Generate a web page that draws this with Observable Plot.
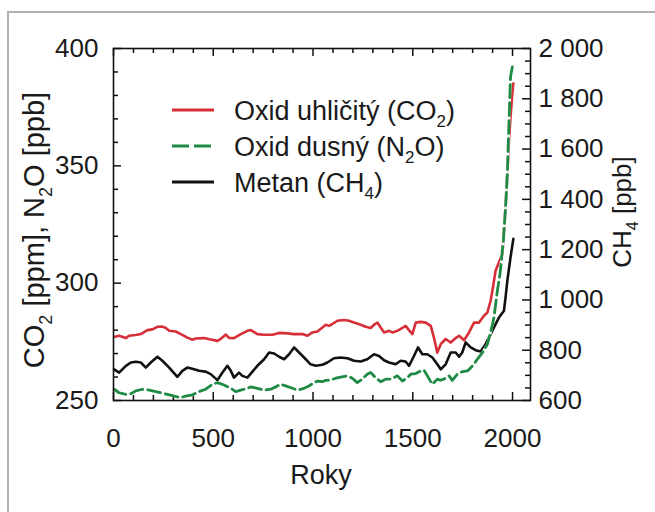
<!DOCTYPE html>
<html><head><meta charset="utf-8">
<script src="https://cdn.jsdelivr.net/npm/d3@7"></script>
<script src="https://cdn.jsdelivr.net/npm/@observablehq/plot@0.6"></script>
<style>
body{margin:0;background:#fff;font-family:"Liberation Sans",Arial,sans-serif;}
#wrap{position:relative;width:655px;height:512px;overflow:hidden;background:#fff;}
#border{position:absolute;left:7px;top:11px;width:700px;height:600px;border:2px solid #b0b0b0;box-sizing:border-box;pointer-events:none;}
</style></head><body>
<div id="wrap"><div id="chart"></div><div id="border"></div></div>
<script>
// ---- data ----
const co2 = [[3,277.1],[28,277.6],[62,276.6],[78,277.6],[112,277.9],[137,278.3],[170,280.0],[195,280.3],[220,281.4],[245,281.5],[262,280.9],[279,279.7],[312,279.4],[337,278.3],[370,276.8],[396,275.9],[412,276.4],[454,276.6],[487,276.0],[521,275.4],[538,276.3],[563,278.1],[579,276.7],[604,276.6],[638,278.3],[671,279.7],[688,280.0],[721,278.3],[755,278.0],[797,278.0],[830,278.8],[872,278.6],[905,278.3],[947,278.3],[972,277.6],[997,279.0],[1022,279.4],[1047,281.1],[1064,282.3],[1080,281.8],[1097,282.6],[1122,284.0],[1155,284.3],[1180,284.0],[1205,283.2],[1239,282.3],[1264,281.4],[1289,280.9],[1306,282.3],[1323,283.2],[1339,281.1],[1356,279.0],[1381,279.7],[1398,279.0],[1423,279.7],[1448,280.9],[1464,281.8],[1481,280.0],[1498,278.3],[1515,283.2],[1540,283.5],[1565,283.2],[1590,281.8],[1606,276.8],[1623,270.4],[1640,274.0],[1665,276.2],[1690,274.7],[1715,276.6],[1732,277.6],[1757,275.7],[1782,279.0],[1807,283.2],[1832,283.2],[1857,286.1],[1874,287.5],[1890,292.5],[1899,296.8],[1915,305.3],[1949,312.5],[1965,332.4],[1974,346.7],[1982,360.9],[1990,370.9],[1999,380.9],[2004,385.1]];
const n2o = [[3,254.8],[28,253.3],[62,252.6],[87,252.9],[112,254.1],[145,254.8],[179,254.4],[212,253.8],[237,253.3],[270,252.6],[304,251.9],[337,251.2],[362,251.9],[396,252.4],[429,253.8],[462,254.8],[496,256.9],[521,257.6],[554,256.6],[588,255.2],[613,253.8],[638,254.4],[671,255.2],[688,255.8],[721,255.2],[755,254.4],[788,254.8],[813,255.8],[838,256.9],[863,256.2],[897,255.2],[922,254.4],[955,255.2],[980,256.2],[1005,257.6],[1022,258.3],[1047,258.0],[1064,258.6],[1089,258.8],[1114,259.5],[1139,260.0],[1172,260.5],[1197,259.5],[1222,257.6],[1247,259.1],[1272,261.2],[1289,261.9],[1314,259.7],[1339,258.0],[1364,259.1],[1389,259.1],[1423,260.5],[1448,258.3],[1473,259.7],[1490,261.2],[1515,261.5],[1540,262.6],[1556,263.0],[1573,260.5],[1598,256.9],[1623,259.1],[1640,258.6],[1665,259.5],[1682,260.5],[1698,258.6],[1723,261.2],[1748,262.3],[1774,262.6],[1799,264.7],[1824,267.6],[1849,270.4],[1874,274.0],[1890,279.0],[1907,285.4],[1924,296.8],[1937,303.9],[1954,318.2],[1965,332.4],[1974,346.7],[1982,368.0],[1990,388.0],[1999,392.2]];
const ch4 = [[3,724],[28,711],[62,738],[87,751],[112,754],[137,751],[162,731],[187,751],[220,774],[245,758],[279,731],[320,694],[345,718],[370,731],[404,724],[429,718],[462,715],[487,705],[521,681],[546,711],[571,738],[588,718],[604,691],[629,711],[646,698],[671,691],[688,707],[721,738],[755,764],[780,791],[805,787],[830,774],[855,764],[880,784],[905,811],[930,791],[955,771],[988,744],[1014,738],[1047,742],[1072,751],[1105,768],[1139,771],[1172,768],[1206,758],[1239,755],[1272,764],[1306,784],[1331,777],[1356,760],[1381,751],[1414,744],[1439,758],[1464,755],[1481,738],[1506,777],[1526,811],[1548,784],[1573,784],[1598,771],[1623,744],[1640,724],[1665,744],[1690,791],[1715,791],[1732,774],[1748,791],[1765,831],[1790,811],[1815,800],[1840,795],[1865,824],[1890,864],[1915,904],[1932,930],[1957,957],[1965,1010],[1974,1077],[1990,1170],[2004,1243]];

const xMajor = [0,500,1000,1500,2000];
const xMinor = [100,200,300,400,600,700,800,900,1100,1200,1300,1400,1600,1700,1800,1900];
const yMajor = [250,300,350,400];
const yMinor = [260,270,280,290,310,320,330,340,360,370,380,390];
const ch4Major = [600,800,1000,1200,1400,1600,1800,2000];
const ch4Labels = ["600","800","1 000","1 200","1 400","1 600","1 800","2 000"];
const ch4Minor = [650,700,750,850,900,950,1050,1100,1150,1250,1300,1350,1450,1500,1550,1650,1700,1750,1850,1900,1950];
const legendItems = [
  {name:"Oxid uhličitý (CO", sub:"2", tail:")", color:"#d62f38", dash:null},
  {name:"Oxid dusný (N", sub:"2", tail:"O)", color:"#1e8a44", dash:"17,5"},
  {name:"Metan (CH", sub:"4", tail:")", color:"#111", dash:null}
];

// CH4 is drawn against the right axis: map 600–2000 ppb onto 250–400
const toLeft = v => 250 + (v - 600) * 150 / 1400;
const ch4Label = new Map(ch4Major.map((v, i) => [toLeft(v), ch4Labels[i]]));

const W = 655, H = 512, ML = 113, MR = 125, MT = 48, MB = 112;
const PW = W - ML - MR, PH = H - MT - MB;
const X0 = 0, X1 = 2090, Y0 = 250, Y1 = 400;
const FONT = "Liberation Sans, Arial, Helvetica, sans-serif";
const TXT = "#1a1a1a";
const ax = {label: null, fontSize: 26, fill: TXT, tickSize: 0};
const tk = {stroke: "#111", strokeWidth: 1.5};
const MAJ = 8, MIN = 5;
// tick lengths expressed in data units of each scale
const dyU = px => px * (Y1 - Y0) / PH, dxU = px => px * (X1 - X0) / PW;

const chart = Plot.plot({
  width: W, height: H,
  marginLeft: ML, marginRight: MR, marginTop: MT, marginBottom: MB,
  style: {fontFamily: FONT, background: "transparent", overflow: "visible"},
  x: {domain: [X0, X1]},
  y: {domain: [Y0, Y1]},
  marks: [
    // inward tick marks on all four sides
    Plot.ruleX(xMinor, {x: d => d, y1: Y0, y2: Y0 + dyU(MIN), ...tk}),
    Plot.ruleX(xMajor, {x: d => d, y1: Y0, y2: Y0 + dyU(MAJ), ...tk}),
    Plot.ruleX(xMinor, {x: d => d, y1: Y1, y2: Y1 - dyU(MIN), ...tk}),
    Plot.ruleX(xMajor, {x: d => d, y1: Y1, y2: Y1 - dyU(MAJ), ...tk}),
    Plot.ruleY(yMinor, {y: d => d, x1: X0, x2: X0 + dxU(MIN), ...tk}),
    Plot.ruleY(yMajor, {y: d => d, x1: X0, x2: X0 + dxU(MAJ), ...tk}),
    Plot.ruleY(ch4Minor, {y: d => toLeft(d), x1: X1, x2: X1 - dxU(MIN), ...tk}),
    Plot.ruleY(ch4Major, {y: d => toLeft(d), x1: X1, x2: X1 - dxU(MAJ), ...tk}),
    // tick labels
    Plot.axisX({...ax, anchor: "bottom", ticks: xMajor, tickPadding: 28, tickFormat: d => String(d)}),
    Plot.axisY({...ax, anchor: "left", ticks: yMajor, tickPadding: 15, tickFormat: d => String(d)}),
    Plot.axisY({...ax, anchor: "right", ticks: ch4Major.map(toLeft), tickPadding: 8, tickFormat: d => ch4Label.get(d)}),
    // series
    Plot.line(ch4, {x: d => d[0], y: d => toLeft(d[1]), stroke: "#111", strokeWidth: 2.6}),
    Plot.line(co2, {x: d => d[0], y: d => d[1], stroke: "#d62f38", strokeWidth: 2.6}),
    Plot.line(n2o, {x: d => d[0], y: d => d[1], stroke: "#fff", strokeWidth: 2.6}),
    Plot.line(n2o, {x: d => d[0], y: d => d[1], stroke: "#1e8a44", strokeWidth: 2.8, strokeDasharray: "13,5"}),
    Plot.frame({stroke: "#111", strokeWidth: 1.6})
  ]
});
document.getElementById("chart").append(chart);

const svg = d3.select(chart);
function addRich(x, y, rot, size, parts, anchor) {
  const t = svg.append("text")
    .attr("transform", `translate(${x},${y}) rotate(${rot})`)
    .attr("text-anchor", anchor).attr("font-family", FONT).attr("font-size", size).attr("fill", TXT);
  const subSize = Math.round(size * 0.62), sh = Math.round(size * 0.26);
  let shifted = false;
  parts.forEach(([s, isSub]) => {
    const ts = t.append("tspan").text(s);
    if (isSub) { ts.attr("font-size", subSize).attr("dy", sh); shifted = true; }
    else if (shifted) { ts.attr("dy", -sh); shifted = false; }
  });
  return t;
}
// axis titles
addRich(44, 230, -90, 29, [["CO",0],["2",1],[" [ppm], N",0],["2",1],["O [ppb]",0]], "middle");
addRich(631, 212, -90, 26, [["CH",0],["4",1],[" [ppb]",0]], "middle");
addRich(321, 484, 0, 27, [["Roky",0]], "middle");

// legend
const rows = [110, 146, 182];
legendItems.forEach((it, i) => {
  const y = rows[i];
  const ln = svg.append("line").attr("x1", 172).attr("x2", 214).attr("y1", y).attr("y2", y)
    .attr("stroke", it.color).attr("stroke-width", 2.8);
  if (it.dash) ln.attr("stroke-dasharray", it.dash);
  addRich(234, y + 10, 0, 27, [[it.name,0],[it.sub,1],[it.tail,0]], "start");
});
</script>
</body></html>
